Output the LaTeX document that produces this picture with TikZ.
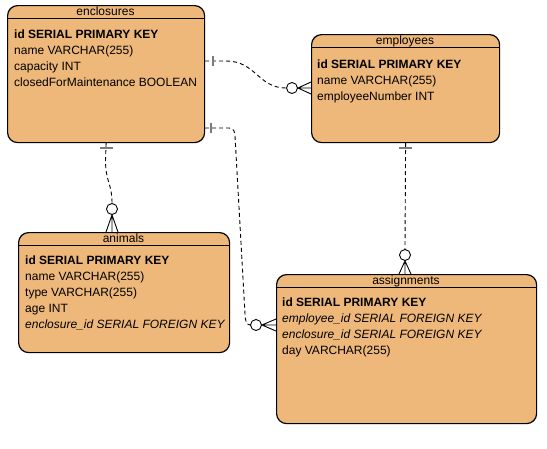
\documentclass[tikz,border=0pt]{standalone}
\usepackage{fontspec}
\setmainfont{Liberation Sans}
\usepackage{tikz}
\usetikzlibrary{arrows}
\definecolor{tablefill}{HTML}{EFB87B}
\definecolor{tickgray}{HTML}{7A7A7A}

\begin{document}
\begin{tikzpicture}[x=1pt,y=-1pt,
 table/.style={draw,line width=1.2pt,fill=tablefill,rounded corners=10pt,anchor=north west,inner sep=0pt},
 title/.style={anchor=base,inner sep=0pt,font=\fontsize{12}{14}\selectfont},
 field/.style={anchor=base west,inner sep=0pt,font=\fontsize{12}{14}\selectfont},
 rel/.style={line width=0.9pt,dash pattern=on 4pt off 3pt},
 one/.style={tickgray,line width=1.6pt},
 zero/.style={circle,draw,line width=0.9pt,fill=white,minimum size=11pt,inner sep=0pt},
 many/.style={line width=0.9pt}]
 \useasboundingbox (0,0) rectangle (547,448);

 % tables
 \node[table,minimum width=197pt,minimum height=137pt] (enclosures) at (7,5) {};
 \node[table,minimum width=188pt,minimum height=108pt] (employees) at (311,34) {};
 \node[table,minimum width=211pt,minimum height=120pt] (animals) at (18,232) {};
 \node[table,minimum width=260pt,minimum height=149pt] (assignments) at (276,274) {};
 \foreach \t in {enclosures,employees,animals,assignments}
  \draw[line width=1.2pt] ([yshift=-13.5pt]\t.north west) -- ([yshift=-13.5pt]\t.north east);

 % enclosures
 \node[title] (enctitle) at (105.5,15.5) {enclosures};
 \node[field] (encid) at (14,38.5) {\textbf{id SERIAL PRIMARY KEY}};
 \node[field] (encname) at (14,54.5) {name VARCHAR(255)};
 \node[field] (enccap) at (14,70.5) {capacity INT};
 \node[field] (encclosed) at (14,86.5) {closedForMaintenance BOOLEAN};

 % employees
 \node[title] (emptitle) at (405,44.5) {employees};
 \node[field] (empid) at (317,68.5) {\textbf{id SERIAL PRIMARY KEY}};
 \node[field] (empname) at (317,84.5) {name VARCHAR(255)};
 \node[field] (empnum) at (317,100.5) {employeeNumber INT};

 % animals
 \node[title] (anititle) at (123.5,242.5) {animals};
 \node[field] (aniid) at (25,264.5) {\textbf{id SERIAL PRIMARY KEY}};
 \node[field] (aniname) at (25,280.5) {name VARCHAR(255)};
 \node[field] (anitype) at (25,296.5) {type VARCHAR(255)};
 \node[field] (aniage) at (25,312.5) {age INT};
 \node[field] (anienc) at (25,328.5) {\textit{enclosure\_id SERIAL FOREIGN KEY}};

 % assignments
 \node[title] (asstitle) at (406,284.5) {assignments};
 \node[field] (assid) at (282,306.5) {\textbf{id SERIAL PRIMARY KEY}};
 \node[field] (assemp) at (282,322.5) {\textit{employee\_id SERIAL FOREIGN KEY}};
 \node[field] (assenc) at (282,338.5) {\textit{enclosure\_id SERIAL FOREIGN KEY}};
 \node[field] (assday) at (282,354.5) {day VARCHAR(255)};

 % relations
 \node[zero] (c1) at (292,88) {};
 \node[zero] (c2) at (112,209) {};
 \node[zero] (c3) at (256,325) {};
 \node[zero] (c4) at (405,255) {};

 \draw[rel] (enclosures.east |- 0,61) -- (226,61) .. controls (256,61) and (258,88) .. (c1.west);
 \draw[one] (213,56) -- (213,66);
 \draw[many] (employees.west |- 0,82) -- (c1.east) -- (employees.west |- 0,94) (c1.east) -- (employees.west |- 0,88);

 \draw[rel] (enclosures.south) -- (105.5,160) .. controls (105.5,182) and (112,183) .. (c2.north);
 \draw[one] (99.5,148) -- (112.5,148);
 \draw[many] (animals.north -| 106,0) -- (c2.south) -- (animals.north -| 118,0) (c2.south) -- (animals.north -| 112,0);

 \draw[rel] (enclosures.east |- 0,128) -- (229,128) .. controls (233,128) and (235,131) .. (235,136) -- (245,314) .. controls (245.3,320) and (246,325) .. (c3.west);
 \draw[one] (211,123) -- (211,133);
 \draw[many] (assignments.west |- 0,319) -- (c3.east) -- (assignments.west |- 0,331) (c3.east) -- (assignments.west |- 0,325);

 \draw[rel] (employees.south) -- (c4.north);
 \draw[one] (398.5,148) -- (411.5,148);
 \draw[many] (assignments.north -| 399,0) -- (c4.south) -- (assignments.north -| 411,0) (c4.south) -- (assignments.north -| 405,0);
\end{tikzpicture}
\end{document}
